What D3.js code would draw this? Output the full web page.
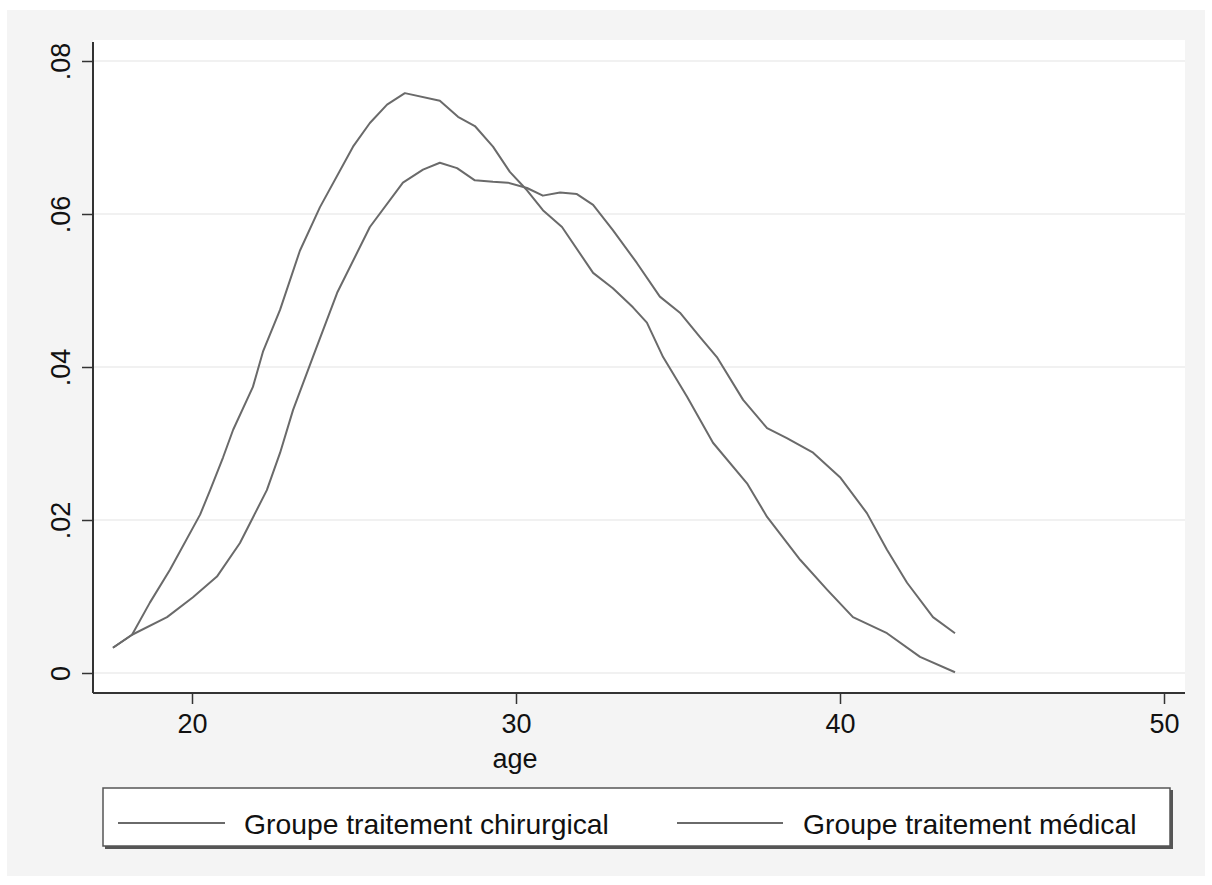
<!DOCTYPE html>
<html><head><meta charset="utf-8">
<script src="https://cdn.jsdelivr.net/npm/d3@7"></script>
<style>body{margin:0;background:#fff}svg{display:block}text{font-family:"Liberation Sans",Arial,Helvetica,sans-serif;fill:#111}</style>
</head><body><svg id="c" width="1212" height="885"></svg>
<script>
const ageA = [17.56,18.15,18.70,19.32,20.25,20.56,20.96,21.27,21.88,22.19,22.72,23.33,23.95,24.97,25.49,26.02,26.57,27.65,28.21,28.73,29.29,29.81,30.34,30.83,31.42,32.38,32.99,33.61,34.04,34.54,35.28,36.08,37.13,37.75,38.77,39.60,40.40,41.45,42.47,43.55];
const densA = [0.0033,0.0050,0.0092,0.0135,0.0207,0.0239,0.0282,0.0318,0.0374,0.0420,0.0475,0.0552,0.0609,0.0688,0.0719,0.0743,0.0758,0.0748,0.0727,0.0715,0.0688,0.0655,0.0631,0.0605,0.0583,0.0523,0.0503,0.0478,0.0458,0.0413,0.0361,0.0301,0.0248,0.0204,0.0148,0.0109,0.0073,0.0052,0.0021,0.0001];
const ageB = [17.56,18.15,19.23,20.03,20.77,21.48,22.31,22.72,23.12,23.73,24.48,25.49,26.51,27.13,27.65,28.18,28.73,29.29,29.75,30.34,30.83,31.36,31.88,32.38,32.99,33.73,34.44,35.06,35.68,36.20,37.01,37.75,38.36,39.17,40.00,40.83,41.45,42.07,42.87,43.55];
const densB = [0.0033,0.0050,0.0073,0.0099,0.0126,0.0170,0.0239,0.0288,0.0344,0.0413,0.0497,0.0583,0.0641,0.0658,0.0667,0.0660,0.0644,0.0642,0.0641,0.0634,0.0624,0.0628,0.0626,0.0612,0.0579,0.0536,0.0492,0.0471,0.0439,0.0413,0.0357,0.0320,0.0307,0.0288,0.0256,0.0209,0.0161,0.0118,0.0073,0.0052];
const seriesNames = ["Groupe traitement chirurgical","Groupe traitement médical"];
const xTicks = [20,30,40,50];
const yTicks = [0,0.02,0.04,0.06,0.08];
const yTickLabels = ["0",".02",".04",".06",".08"];
const xTitle = "age";

const svg = d3.select("#c");
svg.append("rect").attr("x",7).attr("y",10).attr("width",1198).attr("height",866).attr("fill","#f4f4f4");
const L=93,R=1185,T=40,B=693;
svg.append("rect").attr("x",L).attr("y",T).attr("width",R-L).attr("height",B-T).attr("fill","#fff");

const x = d3.scaleLinear().domain([20,50]).range([192,1164]);
const y = d3.scaleLinear().domain([0,0.08]).range([673,61]);

// gridlines
svg.append("g").selectAll("line").data(yTicks).join("line")
  .attr("x1",L).attr("x2",R).attr("y1",d=>y(d)).attr("y2",d=>y(d))
  .attr("stroke","#f1f1f1").attr("stroke-width",2);

// axes
const gx = svg.append("g").attr("transform",`translate(0,${B})`)
  .call(d3.axisBottom(x).tickValues(xTicks).tickSize(11).tickPadding(5).tickFormat(d3.format("d")));
gx.select(".domain").attr("d",`M${L},0H${R}`).attr("stroke","#333").attr("stroke-width",2);
gx.selectAll(".tick line").attr("stroke","#333").attr("stroke-width",1.5);
gx.selectAll(".tick text").attr("font-size",27).attr("font-family","Liberation Sans, Arial, sans-serif").attr("fill","#111").attr("dy","0.9em");

const gy = svg.append("g").attr("transform",`translate(${L},0)`)
  .call(d3.axisLeft(y).tickValues(yTicks).tickSize(11).tickFormat((d,i)=>yTickLabels[i]));
gy.select(".domain").attr("d",`M0,${T+2}V${B}`).attr("stroke","#333").attr("stroke-width",2);
gy.selectAll(".tick line").attr("stroke","#333").attr("stroke-width",1.5);
gy.selectAll(".tick text").attr("font-size",27).attr("font-family","Liberation Sans, Arial, sans-serif").attr("fill","#111")
  .attr("text-anchor","middle").attr("x",0).attr("dy",0)
  .attr("transform","translate(-23,0) rotate(-90)");

svg.append("text").attr("x",515).attr("y",768).attr("text-anchor","middle").attr("font-size",27).text(xTitle);

// lines
const line = d3.line().x(d=>x(d[0])).y(d=>y(d[1]));
const dataA = ageA.map((a,i)=>[a,densA[i]]);
const dataB = ageB.map((a,i)=>[a,densB[i]]);
[dataA,dataB].forEach(d=>{
  svg.append("path").attr("d",line(d)).attr("fill","none").attr("stroke","#6a6a6a").attr("stroke-width",2).attr("stroke-linejoin","round");
});

// legend
const lg = svg.append("g");
lg.append("rect").attr("x",105).attr("y",790).attr("width",1068).attr("height",59).attr("fill","#555");
lg.append("rect").attr("x",103).attr("y",788).attr("width",1067).attr("height",58).attr("fill","#fff").attr("stroke","#555").attr("stroke-width",1.5);
const items = [{x1:118,x2:225,tx:244},{x1:677,x2:783,tx:803}];
items.forEach((it,i)=>{
  lg.append("line").attr("x1",it.x1).attr("x2",it.x2).attr("y1",823).attr("y2",823).attr("stroke","#6a6a6a").attr("stroke-width",2);
  lg.append("text").attr("x",it.tx).attr("y",834).attr("font-size",28.3).text(seriesNames[i]);
});
</script></body></html>
